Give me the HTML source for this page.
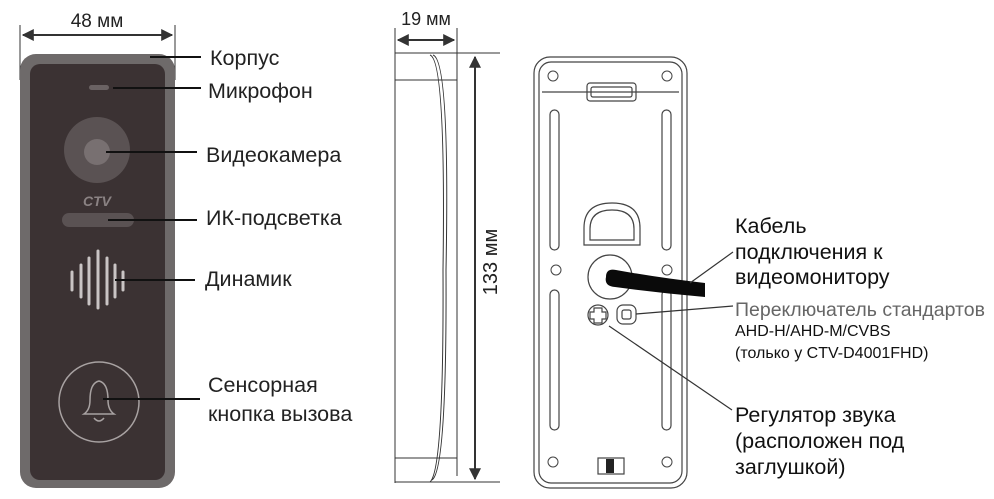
<!DOCTYPE html>
<html><head><meta charset="utf-8"><style>
html,body{margin:0;padding:0;background:#fff;}
svg{display:block;}
text{font-family:"Liberation Sans",sans-serif;}
</style></head><body>
<svg width="994" height="499" viewBox="0 0 994 499" xmlns="http://www.w3.org/2000/svg">
<defs>
<marker id="ar" viewBox="0 0 10 10" refX="9" refY="5" markerWidth="6" markerHeight="6" orient="auto-start-reverse"><path d="M0,0 L10,5 L0,10 z" fill="#333"/></marker>
</defs>
<!-- Front panel -->
<line x1="20" y1="25" x2="20" y2="80" stroke="#333" stroke-width="1"/>
<line x1="175" y1="25" x2="175" y2="80" stroke="#333" stroke-width="1"/>
<line x1="23" y1="35" x2="172" y2="35" stroke="#333" stroke-width="2" marker-start="url(#ar)" marker-end="url(#ar)"/>
<text x="97" y="27" font-size="19" text-anchor="middle" fill="#222">48 мм</text>
<rect x="20" y="54" width="155" height="434" rx="16" fill="#6e6a6a"/>
<rect x="30" y="64" width="135" height="416" rx="10" fill="#3b3233"/>
<rect x="89" y="85" width="20" height="5" rx="2.5" fill="#6a6263"/>
<circle cx="97" cy="150" r="33" fill="#5a5253"/>
<circle cx="97" cy="152" r="13" fill="#787071"/>
<text x="97" y="206" font-size="14" font-weight="bold" text-anchor="middle" fill="#8a8283" font-style="italic">CTV</text>
<rect x="62" y="213" width="72" height="14" rx="7" fill="#5a5253"/>
<g stroke="#c9c4c4" stroke-width="3" stroke-linecap="round">
<line x1="72" y1="272" x2="72" y2="290"/><line x1="81" y1="265" x2="81" y2="297"/><line x1="89" y1="258" x2="89" y2="304"/><line x1="98" y1="251" x2="98" y2="308"/><line x1="107" y1="258" x2="107" y2="304"/><line x1="115" y1="265" x2="115" y2="297"/><line x1="123" y1="272" x2="123" y2="290"/>
</g>
<circle cx="99" cy="402" r="40" fill="none" stroke="#a8a2a2" stroke-width="1.5"/>
<path d="M84,414 Q90,410 90,400 Q90,383 99,381 Q108,383 108,400 Q108,410 114,414 Z" fill="none" stroke="#a8a2a2" stroke-width="1.5"/>
<path d="M94,418 Q99,424 104,418" fill="none" stroke="#a8a2a2" stroke-width="1.5"/>
<g stroke="#111" stroke-width="2">
<line x1="150" y1="57" x2="201" y2="57"/>
<line x1="113" y1="88" x2="201" y2="88"/>
<line x1="106" y1="152" x2="197" y2="152"/>
<line x1="108" y1="220" x2="197" y2="220"/>
<line x1="115" y1="280" x2="195" y2="280"/>
<line x1="103" y1="399" x2="200" y2="399"/>
</g>
<g font-size="21.5" fill="#222">
<text x="210" y="65">Корпус</text>
<text x="208" y="98">Микрофон</text>
<text x="206" y="162">Видеокамера</text>
<text x="206" y="225">ИК-подсветка</text>
<text x="205" y="286">Динамик</text>
<text x="208" y="392">Сенсорная</text>
<text x="208" y="421">кнопка вызова</text>
</g>
<!-- Side view -->
<g stroke="#333" stroke-width="1" fill="none">
<line x1="395" y1="28" x2="395" y2="483"/>
<line x1="457" y1="28" x2="457" y2="476"/>
<line x1="395" y1="53" x2="500" y2="53"/>
<line x1="395" y1="482" x2="500" y2="482"/>
<line x1="395" y1="80" x2="457" y2="80"/>
<line x1="395" y1="458" x2="457" y2="458"/>
<path d="M430,55 Q446,60 443,270 Q444,470 430,482"/>
<path d="M433,55 Q450,60 446,270 Q447,470 432,480"/>
</g>
<line x1="398" y1="40" x2="454" y2="40" stroke="#333" stroke-width="2" marker-start="url(#ar)" marker-end="url(#ar)"/>
<text x="426" y="25" font-size="18" text-anchor="middle" fill="#222">19 мм</text>
<line x1="475" y1="57" x2="475" y2="479" stroke="#333" stroke-width="2" marker-start="url(#ar)" marker-end="url(#ar)"/>
<text x="0" y="0" font-size="20" text-anchor="middle" fill="#222" transform="translate(497,262) rotate(-90)">133 мм</text>
<!-- Back plate -->
<g stroke="#444" fill="none" stroke-width="1.2">
<rect x="534" y="57" width="153" height="431" rx="16"/>
<rect x="539" y="62" width="143" height="421" rx="12"/>
<line x1="542" y1="92" x2="679" y2="92"/>
<rect x="587" y="83" width="49" height="18" rx="3"/>
<rect x="591" y="87" width="41" height="10" rx="2"/>
<rect x="550" y="110" width="9" height="140" rx="4.5"/>
<rect x="550" y="290" width="9" height="140" rx="4.5"/>
<rect x="662" y="110" width="9" height="140" rx="4.5"/>
<rect x="662" y="290" width="9" height="140" rx="4.5"/>
<path d="M584,245 L584,228 Q584,203 612,203 Q640,203 640,228 L640,245 Z"/>
<path d="M590,240 L590,229 Q590,210 612,210 Q634,210 634,229 L634,240 Z"/>
<circle cx="610" cy="277" r="22"/>
<circle cx="598" cy="315" r="10"/>
<rect x="617" y="305" width="19" height="19" rx="6"/>
<rect x="622" y="310" width="9" height="9" rx="2"/>
<path d="M594,308 h8 v4 h4 v7 h-4 v4 h-8 v-4 h-4 v-7 h4 z"/>
<rect x="598" y="458" width="26" height="16"/>
</g>
<g fill="none" stroke="#444" stroke-width="1">
<circle cx="553" cy="76" r="5"/><circle cx="667" cy="76" r="5"/>
<circle cx="556" cy="270" r="5"/><circle cx="667" cy="270" r="5"/>
<circle cx="553" cy="462" r="5"/><circle cx="667" cy="462" r="5"/>
</g>
<rect x="606" y="459" width="8" height="14" fill="#222"/>
<path d="M606,277 Q606,268 616,270 Q660,278 705,283 L705,297 Q660,293 615,287 Q604,286 606,277 Z" fill="#0a0a0a"/>
<g stroke="#333" stroke-width="1.2">
<line x1="690" y1="283" x2="733" y2="252"/>
<line x1="636" y1="314" x2="733" y2="306"/>
<line x1="609" y1="326" x2="732" y2="410"/>
</g>
<g font-size="21.5" fill="#111">
<text x="735" y="233">Кабель</text>
<text x="735" y="259">подключения к</text>
<text x="735" y="284">видеомонитору</text>
<text x="735" y="422">Регулятор звука</text>
<text x="735" y="448">(расположен под</text>
<text x="735" y="474">заглушкой)</text>
</g>
<text x="735" y="316" font-size="19.5" fill="#666">Переключатель стандартов</text>
<text x="735" y="336" font-size="16" fill="#111">AHD-H/AHD-M/CVBS</text>
<text x="735" y="358" font-size="16" fill="#111">(только у CTV-D4001FHD)</text>
</svg>
</body></html>
